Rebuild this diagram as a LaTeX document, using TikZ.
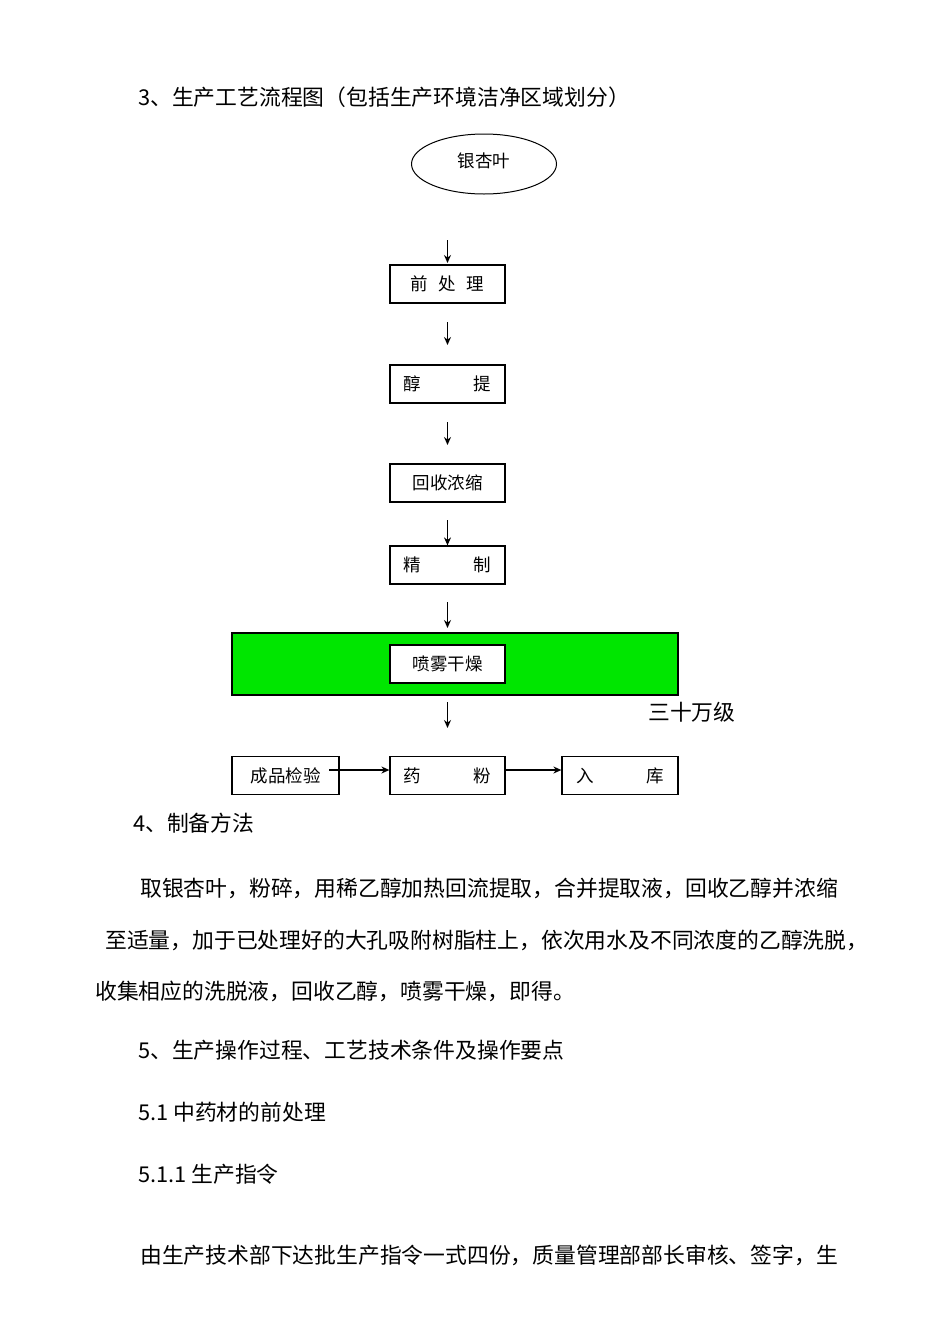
\documentclass[tikz,border=0pt]{standalone}
\usepackage{fontspec}
\usetikzlibrary{shapes.geometric,arrows.meta}
\newfontfamily\cjk{Noto Sans CJK SC}
\definecolor{grn}{RGB}{0,230,0}
\begin{document}
\begin{tikzpicture}[x=1pt,y=-1pt,
 box/.style={draw,line width=1.2pt,minimum width=115pt,minimum height=38pt,inner sep=0pt,font=\cjk\fontsize{17.5}{17.5}\selectfont},
 txt/.style={anchor=west,inner sep=0pt,font=\cjk\fontsize{21.8}{22}\selectfont},
 arr/.style={-{Stealth[length=8pt,width=7pt]},line width=1.3pt}]
\useasboundingbox (0,0) rectangle (950,1344);
\node[txt] (t3) at (138,97) {3、生产工艺流程图（包括生产环境洁净区域划分）};
\node[draw,ellipse,line width=1pt,minimum width=145pt,minimum height=60pt,font=\cjk\fontsize{17.5}{17.5}\selectfont] (e) at (484,164) {\raisebox{8pt}{银杏叶}};
\fill[grn] (232,633) rectangle (678,695);
\draw[line width=1.2pt] (232,633) rectangle (678,695);
\node[box] (b1) at (447.5,284) {前\hspace{0.6em}处\hspace{0.6em}理};
\node[box] (b2) at (447.5,384) {醇\hspace{3em}提};
\node[box] (b3) at (447.5,483) {回收浓缩};
\node[box] (b4) at (447.5,565) {精\hspace{3em}制};
\node[box,fill=white] (b5) at (447.5,664) {喷雾干燥};
\node[box] (b6) at (447.5,775.5) {药\hspace{3em}粉};
\node[box,minimum width=107pt] (b7) at (285.5,775.5) {成品检验};
\node[box,minimum width=116pt] (b8) at (620,775.5) {入\hspace{3em}库};
\coordinate (a1) at (447.5,240);
\coordinate (a2) at (447.5,322);
\coordinate (a3) at (447.5,422);
\coordinate (a4) at (447.5,520);
\coordinate (a5) at (447.5,602);
\coordinate (a6) at (447.5,702);
\draw[arr] (a1) -- ++(0,23);
\draw[arr] (a2) -- ++(0,23);
\draw[arr] (a3) -- ++(0,23);
\draw[arr] (a4) -- (b4.north);
\draw[arr] (a5) -- ++(0,26);
\draw[arr] (a6) -- ++(0,26);
\coordinate (c1) at (329,770);
\draw[arr] (c1) -- (b6.west|-c1);
\draw[arr] (b6.east|-c1) -- (b8.west|-c1);
\node[txt] (lvl) at (648,712) {三十万级};
\node[txt] (t4) at (133,823) {4、制备方法};
\node[txt] (p1) at (140,888) {取银杏叶，粉碎，用稀乙醇加热回流提取，合并提取液，回收乙醇并浓缩};
\node[txt] (p2) at (105,940) {至适量，加于已处理好的大孔吸附树脂柱上，依次用水及不同浓度的乙醇洗脱，};
\node[txt] (p3) at (95,991) {收集相应的洗脱液，回收乙醇，喷雾干燥，即得。};
\node[txt] (t5) at (138,1050) {5、生产操作过程、工艺技术条件及操作要点};
\node[txt] (t51) at (138,1112) {5.1 中药材的前处理};
\node[txt] (t511) at (138,1174) {5.1.1 生产指令};
\node[txt] (p4) at (140,1255) {由生产技术部下达批生产指令一式四份，质量管理部部长审核、签字，生};
\end{tikzpicture}
\end{document}
